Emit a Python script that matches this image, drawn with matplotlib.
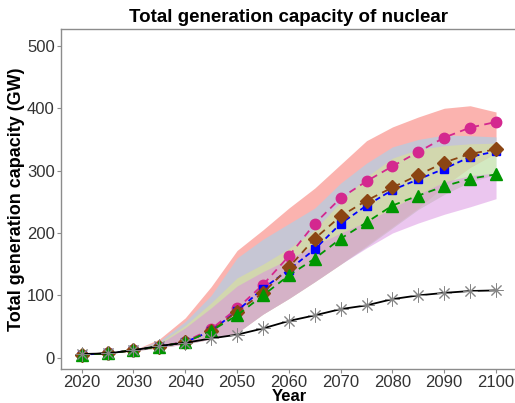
import matplotlib
matplotlib.use("Agg")
import matplotlib.pyplot as plt

plt.rcParams['font.family'] = ['Liberation Sans', 'DejaVu Sans']

years = [2020, 2025, 2030, 2035, 2040, 2045, 2050, 2055, 2060,
         2065, 2070, 2075, 2080, 2085, 2090, 2095, 2100]

# scenario lines (GW)
pink = [5, 7, 12, 18, 26, 46, 79, 117, 163, 215, 256, 283, 307, 330, 353, 369, 378]
brown = [5, 7, 12, 18, 25, 43, 74, 104, 145, 191, 227, 252, 273, 293, 313, 327, 334]
blue = [5, 7, 12, 18, 25, 43, 75, 111, 141, 174, 215, 244, 269, 286, 303, 322, 331]
green = [5, 7, 12, 18, 25, 43, 68, 100, 132, 159, 191, 217, 244, 260, 275, 287, 294]
base = [6, 7, 12, 19, 24, 31, 37, 47, 59, 68, 78, 84, 94, 100, 104, 107, 108]

# uncertainty ranges (GW)
red_hi = [5, 7, 12, 30, 64, 114, 172, 205, 240, 272, 310, 348, 370, 386, 400, 404, 394]
red_lo = [5, 7, 11, 16, 22, 30, 40, 70, 95, 122, 150, 180, 210, 240, 275, 305, 328]
blu_hi = [5, 7, 12, 27, 58, 100, 160, 190, 215, 240, 280, 312, 338, 350, 357, 356, 354]
blu_lo = [5, 7, 11, 16, 22, 30, 40, 70, 95, 122, 150, 178, 208, 238, 262, 282, 294]
grn_hi = [5, 7, 12, 24, 52, 88, 128, 150, 175, 205, 250, 290, 320, 334, 340, 343, 344]
grn_lo = [5, 7, 11, 16, 22, 30, 40, 70, 95, 122, 150, 178, 208, 238, 262, 282, 294]
pur_hi = [5, 7, 12, 22, 48, 80, 115, 138, 158, 180, 200, 218, 240, 262, 282, 292, 296]
pur_lo = [5, 7, 11, 16, 22, 30, 40, 70, 95, 122, 150, 176, 200, 216, 230, 242, 255]

fig = plt.figure(figsize=(5.15, 4.03), dpi=100)
ax = fig.add_axes([0.1184, 0.0844, 0.885, 0.8436])

ax.fill_between(years, red_lo, red_hi, color='#F8766D', alpha=0.55, lw=0)
ax.fill_between(years, blu_lo, blu_hi, color='#9CD6F4', alpha=0.55, lw=0)
ax.fill_between(years, grn_lo, grn_hi, color='#E2EC80', alpha=0.45, lw=0)
ax.fill_between(years, pur_lo, pur_hi, color='#D98EE1', alpha=0.5, lw=0)

ax.plot(years, pink, color='#D4288F', marker='o', ms=7.5, lw=1.3, dashes=(4, 3))
ax.plot(years, blue, color='#0000FF', marker='s', ms=6, lw=1.3, dashes=(3, 2))
ax.plot(years, brown, color='#8B4513', marker='D', ms=7, lw=1.3, dashes=(4, 3))
ax.plot(years, green, color='#009600', marker='^', ms=8.5, lw=1.3, dashes=(4, 3))
ax.plot(years, base, '-', color='black', lw=1.3)
ax.plot(years, base, ls='none', marker=(8, 2, 0), ms=10, mec='#858585', mew=0.7)

ax.set_xlim(2016, 2104)
ax.set_ylim(-18, 527)
ax.set_xticks(range(2020, 2101, 10))
ax.set_yticks(range(0, 501, 100))

for s in ['left', 'bottom', 'top']:
    ax.spines[s].set_color('#8C8C8C')
    ax.spines[s].set_linewidth(1.0)
ax.spines['right'].set_visible(False)
ax.tick_params(colors='#8C8C8C', length=3, width=0.8, labelsize=12,
               labelcolor='#333333', pad=1.5)

ax.set_title('Total generation capacity of nuclear', fontsize=13.5,
             fontweight='bold', pad=5)
ax.set_xlabel('Year', fontsize=12, fontweight='bold', labelpad=-1)
ax.set_ylabel('Total generation capacity (GW)', fontsize=13, fontweight='bold',
              labelpad=1)

fig.savefig('out.png', dpi=100)
